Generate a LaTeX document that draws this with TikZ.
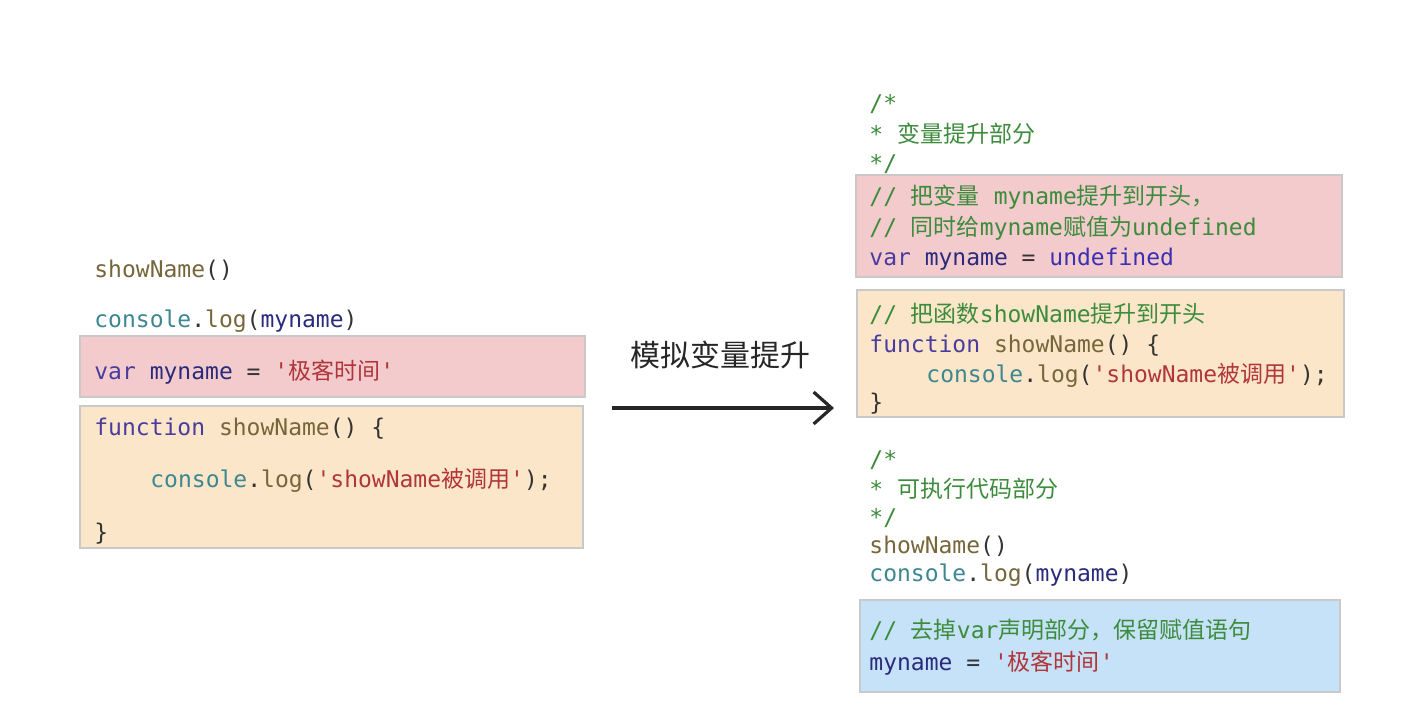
\documentclass[tikz,border=0pt]{standalone}
\usepackage{fontspec}
\setmonofont{DejaVu Sans Mono}
\newfontfamily\cjk{Noto Sans CJK SC}
\usetikzlibrary{arrows.meta}
\definecolor{cfn}{HTML}{76663A}
\definecolor{ccon}{HTML}{3C8790}
\definecolor{ckw}{HTML}{4A3C9E}
\definecolor{cvar}{HTML}{2B2B7E}
\definecolor{cund}{HTML}{3A30B0}
\definecolor{cstr}{HTML}{B0363A}
\definecolor{ccom}{HTML}{3C8C3C}
\definecolor{cpun}{HTML}{333333}
\definecolor{fred}{HTML}{F3CBCD}
\definecolor{forg}{HTML}{FCE6C9}
\definecolor{fblu}{HTML}{C6E2F8}
\definecolor{bord}{HTML}{C9C9C9}
\newcommand{\cj}[1]{{\cjk #1}}
\newcommand{\Fn}[1]{\textcolor{cfn}{#1}}
\newcommand{\Con}{\textcolor{ccon}{console}.\textcolor{cfn}{log}}
\newcommand{\Kw}[1]{\textcolor{ckw}{#1}}
\newcommand{\Vr}[1]{\textcolor{cvar}{#1}}
\newcommand{\Str}[1]{\textcolor{cstr}{#1}}
\newcommand{\Com}[1]{\textcolor{ccom}{#1}}
\begin{document}
\begin{tikzpicture}[x=0.5pt,y=-0.5pt,
  code/.style={anchor=base west, inner sep=0pt, text=cpun, font=\ttfamily\fontsize{11.5}{14}\selectfont},
  codebox/.style={draw=bord, line width=0.6pt},
  lbl/.style={inner sep=0pt, text=black!85, font=\cjk\fontsize{15}{18}\selectfont}]
\useasboundingbox[fill=white] (0,0) rectangle (1426,720);
% boxes
\path[codebox, fill=fred] (80,336) rectangle (585,397);
\path[codebox, fill=forg] (80,406) rectangle (583,548);
\path[codebox, fill=fred] (856,175) rectangle (1342,277);
\path[codebox, fill=forg] (857,290) rectangle (1344,417);
\path[codebox, fill=fblu] (860,600) rectangle (1340,692);
% left code
\node[code] (l1) at (94,277) {\Fn{showName}()};
\node[code] (l2) at (94,327) {\Con(\Vr{myname})};
\node[code] (l3) at (94,379) {\Kw{var} \Vr{myname} = \Str{'\cj{极客时间}'}};
\node[code] (l4) at (94,435) {\Kw{function} \Fn{showName}() \{};
\node[code] (l5) at (150,487) {\Con(\Str{'showName\cj{被调用}'});};
\node[code] (l6) at (94,540) {\}};
% arrow
\node[lbl] (lbl) at (720,355) {模拟变量提升};
\coordinate (as) at (612,408);
\coordinate (ae) at (834,408);
\draw[line width=1.6pt, black!85, -{Straight Barb[length=9pt,width=16pt,line width=1.6pt]}] (as) -- (ae);
% right code
\node[code] (r1) at (869,111) {\Com{/*}};
\node[code] (r2) at (869,142) {\Com{* \cj{变量提升部分}}};
\node[code] (r3) at (869,171) {\Com{*/}};
\node[code] (r4) at (869,204) {\Com{// \cj{把变量} myname\cj{提升到开头，}}};
\node[code] (r5) at (869,235) {\Com{// \cj{同时给}myname\cj{赋值为}undefined}};
\node[code] (r6) at (869,265) {\Kw{var} \Vr{myname} = \textcolor{cund}{undefined}};
\node[code] (r7) at (869,322) {\Com{// \cj{把函数}showName\cj{提升到开头}}};
\node[code] (r8) at (869,352) {\Kw{function} \Fn{showName}() \{};
\node[code] (r9) at (926,382) {\Con(\Str{'showName\cj{被调用}'});};
\node[code] (r10) at (869,410) {\}};
\node[code] (r11) at (869,467) {\Com{/*}};
\node[code] (r12) at (869,497) {\Com{* \cj{可执行代码部分}}};
\node[code] (r13) at (869,525) {\Com{*/}};
\node[code] (r14) at (869,553) {\Fn{showName}()};
\node[code] (r15) at (869,581) {\Con(\Vr{myname})};
\node[code] (r16) at (869,638) {\Com{// \cj{去掉}var\cj{声明部分，保留赋值语句}}};
\node[code] (r17) at (869,670) {\Vr{myname} = \Str{'\cj{极客时间}'}};
\end{tikzpicture}
\end{document}
